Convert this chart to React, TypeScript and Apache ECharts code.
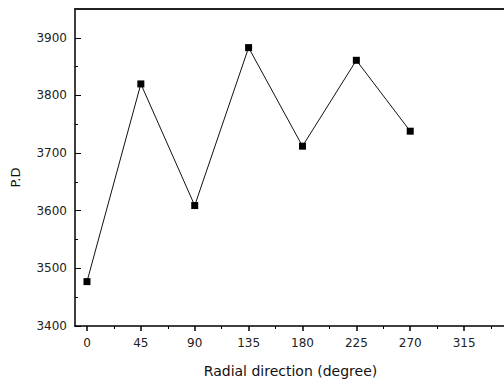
import React, { useEffect, useRef } from "react";
import * as echarts from "echarts";

const xValues = [0, 45, 90, 135, 180, 225, 270];
const pdValues = [3477, 3820, 3609, 3883, 3712, 3861, 3738];
const xTicks = [0, 45, 90, 135, 180, 225, 270, 315];
const xMinorTicks = [22.5, 67.5, 112.5, 157.5, 202.5, 247.5, 292.5, 337.5];
const yTicks = [3400, 3500, 3600, 3700, 3800, 3900];
const yMinorTicks = [3450, 3550, 3650, 3750, 3850];

const FONT = "DejaVu Sans, Verdana, sans-serif";

export default function App() {
  const ref = useRef<HTMLDivElement>(null);
  useEffect(() => {
    if (!ref.current) return;
    const chart = echarts.init(ref.current, null, { renderer: "svg" });
    const xBase = { type: "value", min: -10, max: 350, splitLine: { show: false } };
    const yBase = { type: "value", min: 3400, max: 3950, splitLine: { show: false } };
    const fmt = (v: number) => String(v);
    chart.setOption({
      animation: false,
      backgroundColor: "#ffffff",
      grid: { left: 75, top: 9, width: 431, height: 317, containLabel: false, outerBoundsMode: "none" },
      xAxis: [
        {
          ...xBase,
          position: "bottom",
          name: "Radial direction (degree)",
          nameLocation: "middle",
          nameGap: 38,
          nameTextStyle: { fontFamily: FONT, fontSize: 14, color: "#111" },
          axisLine: { show: true, onZero: false, lineStyle: { color: "#000", width: 1.5 } },
          axisTick: { show: true, inside: false, length: 5, lineStyle: { color: "#000", width: 1.5 }, customValues: xTicks },
          axisLabel: { show: true, margin: 11, fontFamily: FONT, fontSize: 12, color: "#222", formatter: fmt, customValues: xTicks },
        },
        {
          ...xBase,
          position: "bottom",
          axisLine: { show: false, onZero: false },
          axisTick: { show: true, inside: false, length: 3, lineStyle: { color: "#000", width: 1 }, customValues: xMinorTicks },
          axisLabel: { show: false },
        },
        {
          ...xBase,
          position: "top",
          axisLine: { show: true, onZero: false, lineStyle: { color: "#222", width: 2 } },
          axisTick: { show: false },
          axisLabel: { show: false },
        },
      ],
      yAxis: [
        {
          ...yBase,
          position: "left",
          name: "P.D",
          nameLocation: "middle",
          nameRotate: 90,
          nameGap: 53,
          nameTextStyle: { fontFamily: FONT, fontSize: 13, color: "#111", padding: [0, 20, 0, 0] },
          axisLine: { show: true, onZero: false, lineStyle: { color: "#000", width: 1.5 } },
          axisTick: { show: true, inside: true, length: 6, lineStyle: { color: "#000", width: 1 }, customValues: yTicks },
          axisLabel: { show: true, margin: 8, fontFamily: FONT, fontSize: 12, color: "#222", formatter: fmt, customValues: yTicks },
        },
        {
          ...yBase,
          position: "left",
          axisLine: { show: false, onZero: false },
          axisTick: { show: true, inside: true, length: 3, lineStyle: { color: "#000", width: 1 }, customValues: yMinorTicks },
          axisLabel: { show: false },
        },
      ],
      series: [
        {
          type: "line",
          xAxisIndex: 0,
          yAxisIndex: 0,
          data: xValues.map((x, i) => [x, pdValues[i]]),
          symbol: "rect",
          symbolSize: 7,
          itemStyle: { color: "#000" },
          lineStyle: { color: "#111", width: 1 },
          silent: true,
        },
      ],
    });
    return () => chart.dispose();
  }, []);
  return (
    <div style={{ position: "fixed", left: 0, top: 0, width: 504, height: 380, overflow: "hidden", background: "#fff" }}>
      <div ref={ref} style={{ width: 504, height: 380 }} />
    </div>
  );
}
